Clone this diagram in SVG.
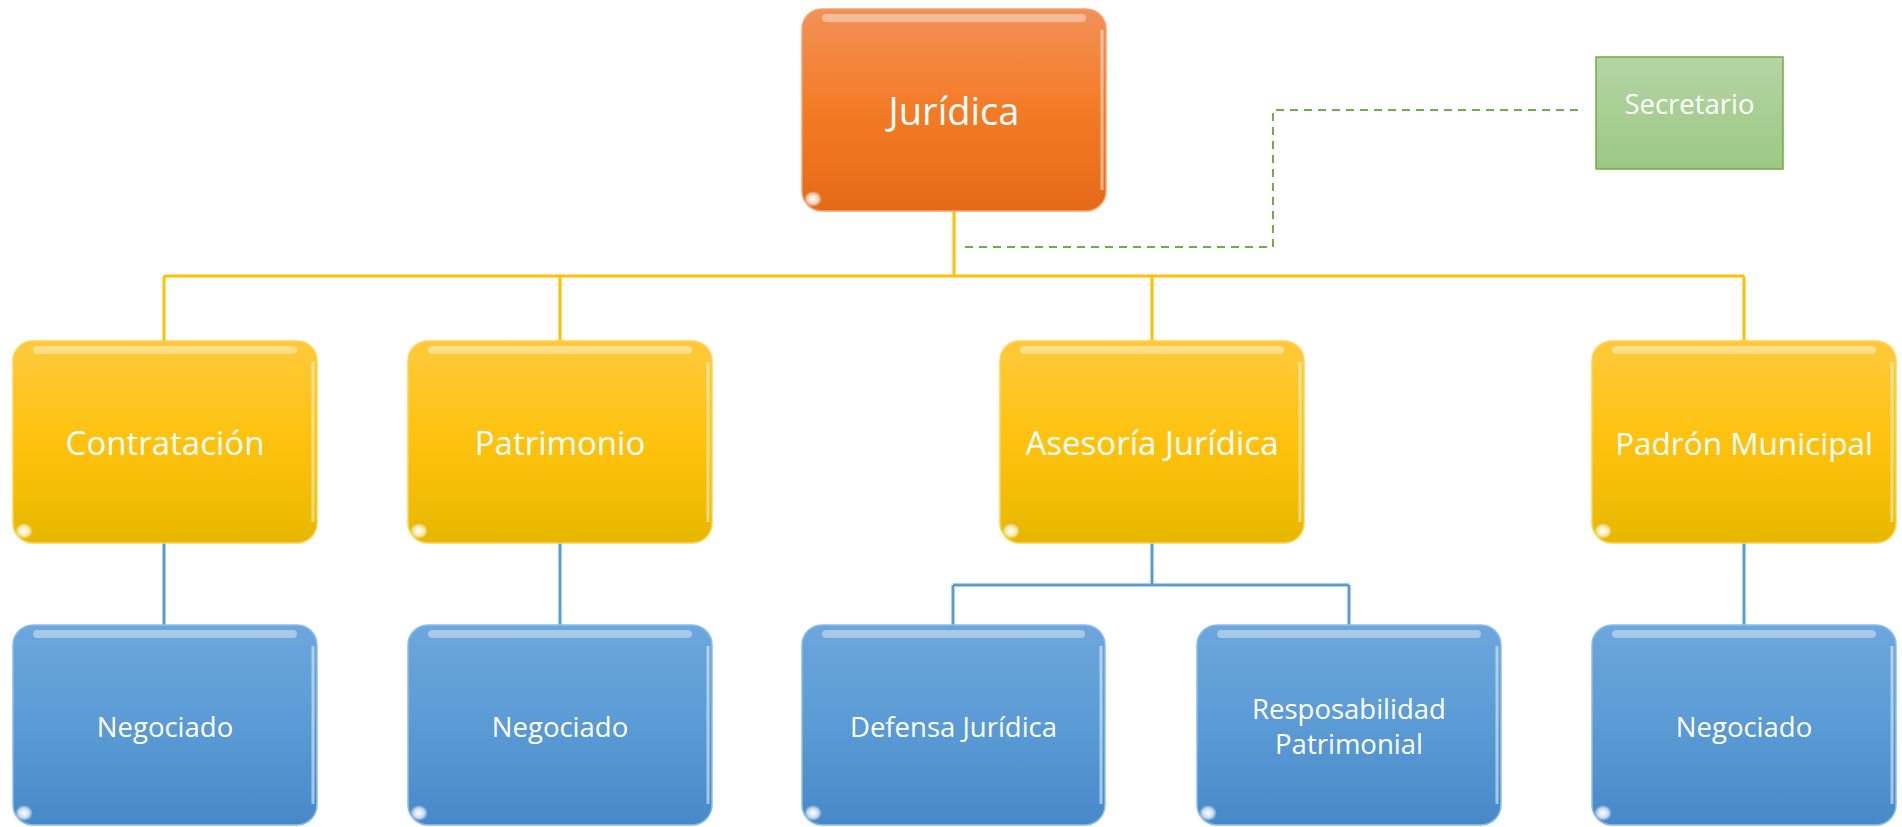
<svg xmlns="http://www.w3.org/2000/svg" width="1902" height="827" viewBox="0 0 1902 827">
<defs>
<linearGradient id="gOr" x1="0" y1="0" x2="0" y2="1"><stop offset="0" stop-color="#F29157"/><stop offset="0.5" stop-color="#F47B26"/><stop offset="1" stop-color="#E56A17"/></linearGradient>
<linearGradient id="gYe" x1="0" y1="0" x2="0" y2="1"><stop offset="0" stop-color="#FFC93C"/><stop offset="0.5" stop-color="#FFC20E"/><stop offset="1" stop-color="#E6B700"/></linearGradient>
<linearGradient id="gBl" x1="0" y1="0" x2="0" y2="1"><stop offset="0" stop-color="#6CA6DC"/><stop offset="0.5" stop-color="#5B9BD5"/><stop offset="1" stop-color="#4788C8"/></linearGradient>
<linearGradient id="gGr" x1="0" y1="0" x2="0" y2="1"><stop offset="0" stop-color="#B5D5A4"/><stop offset="1" stop-color="#9CC883"/></linearGradient>
<radialGradient id="gSpot"><stop offset="0" stop-color="#FFFFFF" stop-opacity="1"/><stop offset="0.6" stop-color="#FFFFFF" stop-opacity="0.7"/><stop offset="1" stop-color="#FFFFFF" stop-opacity="0"/></radialGradient>
</defs>
<style>
.lbl{font-family:"Open Sans","Noto Sans","Liberation Sans",sans-serif;fill:#FFFFFF;text-anchor:middle;dominant-baseline:central}
.hl{fill:none;stroke:#FFFFFF;stroke-opacity:0.4;stroke-width:8;stroke-linecap:round}
.edge{fill:none;stroke:#FFFFFF;stroke-opacity:0.5;stroke-width:3}
.yl{stroke:#FFC000;stroke-width:3;fill:none}
.bl{stroke:#5B9BD5;stroke-width:3;fill:none}
.gl{stroke:#70AD47;stroke-width:2;fill:none;stroke-dasharray:8 6}
</style>
<g id="connectors">
<path class="yl" d="M954 211V276M164 276H1744M164 276V341M560 276V341M1152 276V341M1744 276V341"/>
<path class="bl" d="M164 543V625M560 543V625M1744 543V625M1152 543V585M953 585H1349M953 585V625M1349 585V625"/>
<path class="gl" d="M965 247H1273V110H1578"/>
</g>
<g id="n-juridica">
<rect x="802" y="9" width="304" height="202" rx="20" fill="url(#gOr)" stroke="#F5A26C" stroke-width="1.5"/>
<path class="hl" d="M826 18H1082"/>
<path class="edge" d="M1102 30V190"/>
<ellipse cx="813" cy="199" rx="9" ry="8" fill="url(#gSpot)"/>
<text class="lbl" x="954" y="110" font-size="38">Jurídica</text>
</g>
<g id="n-secretario">
<rect x="1596" y="57" width="187" height="112" fill="url(#gGr)" stroke="#70AD47" stroke-width="1.5"/>
<text class="lbl" x="1689.5" y="103" font-size="27.5">Secretario</text>
</g>
<g id="n-contratacion">
<rect x="13" y="341" width="304" height="202" rx="20" fill="url(#gYe)" stroke="#FFD24D" stroke-width="1.5"/>
<path class="hl" d="M37 350H293"/>
<path class="edge" d="M313 362V522"/>
<ellipse cx="24" cy="531" rx="9" ry="8" fill="url(#gSpot)"/>
<text class="lbl" x="165" y="442" font-size="33">Contratación</text>
</g>
<g id="n-patrimonio">
<rect x="408" y="341" width="304" height="202" rx="20" fill="url(#gYe)" stroke="#FFD24D" stroke-width="1.5"/>
<path class="hl" d="M432 350H688"/>
<path class="edge" d="M708 362V522"/>
<ellipse cx="419" cy="531" rx="9" ry="8" fill="url(#gSpot)"/>
<text class="lbl" x="560" y="442" font-size="33">Patrimonio</text>
</g>
<g id="n-asesoria">
<rect x="1000" y="341" width="304" height="202" rx="20" fill="url(#gYe)" stroke="#FFD24D" stroke-width="1.5"/>
<path class="hl" d="M1024 350H1280"/>
<path class="edge" d="M1300 362V522"/>
<ellipse cx="1011" cy="531" rx="9" ry="8" fill="url(#gSpot)"/>
<text class="lbl" x="1152" y="442" font-size="33">Asesoría Jurídica</text>
</g>
<g id="n-padron">
<rect x="1592" y="341" width="304" height="202" rx="20" fill="url(#gYe)" stroke="#FFD24D" stroke-width="1.5"/>
<path class="hl" d="M1616 350H1872"/>
<path class="edge" d="M1892 362V522"/>
<ellipse cx="1603" cy="531" rx="9" ry="8" fill="url(#gSpot)"/>
<text class="lbl" x="1744" y="442" font-size="31.5">Padrón Municipal</text>
</g>
<g id="n-negociado1">
<rect x="13" y="625" width="304" height="200" rx="20" fill="url(#gBl)" stroke="#8CBDEA" stroke-width="1.5"/>
<path class="hl" d="M37 634H293"/>
<path class="edge" d="M313 646V804"/>
<ellipse cx="24" cy="813" rx="9" ry="8" fill="url(#gSpot)"/>
<text class="lbl" x="165" y="726" font-size="27.5">Negociado</text>
</g>
<g id="n-negociado2">
<rect x="408" y="625" width="304" height="200" rx="20" fill="url(#gBl)" stroke="#8CBDEA" stroke-width="1.5"/>
<path class="hl" d="M432 634H688"/>
<path class="edge" d="M708 646V804"/>
<ellipse cx="419" cy="813" rx="9" ry="8" fill="url(#gSpot)"/>
<text class="lbl" x="560" y="726" font-size="27.5">Negociado</text>
</g>
<g id="n-defensa">
<rect x="802" y="625" width="303" height="200" rx="20" fill="url(#gBl)" stroke="#8CBDEA" stroke-width="1.5"/>
<path class="hl" d="M826 634H1081"/>
<path class="edge" d="M1101 646V804"/>
<ellipse cx="813" cy="813" rx="9" ry="8" fill="url(#gSpot)"/>
<text class="lbl" x="953.5" y="726" font-size="27.5">Defensa Jurídica</text>
</g>
<g id="n-responsabilidad">
<rect x="1197" y="625" width="304" height="200" rx="20" fill="url(#gBl)" stroke="#8CBDEA" stroke-width="1.5"/>
<path class="hl" d="M1221 634H1477"/>
<path class="edge" d="M1497 646V804"/>
<ellipse cx="1208" cy="813" rx="9" ry="8" fill="url(#gSpot)"/>
<text class="lbl" x="1349" y="708" font-size="27.5">Resposabilidad</text>
<text class="lbl" x="1349" y="743" font-size="27.5">Patrimonial</text>
</g>
<g id="n-negociado3">
<rect x="1592" y="625" width="304" height="200" rx="20" fill="url(#gBl)" stroke="#8CBDEA" stroke-width="1.5"/>
<path class="hl" d="M1616 634H1872"/>
<path class="edge" d="M1892 646V804"/>
<ellipse cx="1603" cy="813" rx="9" ry="8" fill="url(#gSpot)"/>
<text class="lbl" x="1744" y="726" font-size="27.5">Negociado</text>
</g>
</svg>
